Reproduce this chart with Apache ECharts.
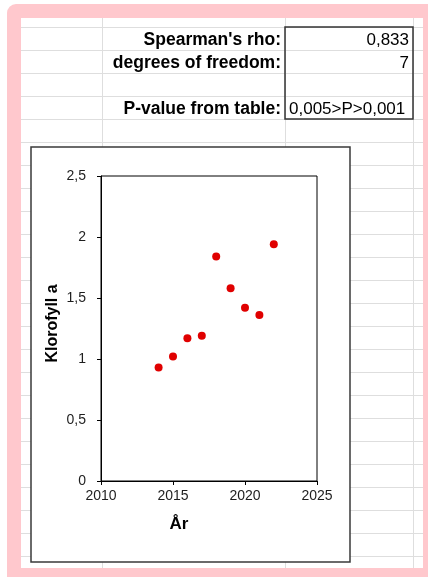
<!DOCTYPE html>
<html>
<head>
<meta charset="utf-8">
<script src="https://cdn.jsdelivr.net/npm/echarts@6/dist/echarts.min.js"></script>
<style>
html,body{margin:0;padding:0;background:#fff;}
#chart{width:428px;height:577px;}
</style>
</head>
<body>
<div id="chart"></div>
<script>
// ---- data ----
const years = [2014, 2015, 2016, 2017, 2018, 2019, 2020, 2021, 2022];
const klorofyll = [0.93, 1.02, 1.17, 1.19, 1.84, 1.58, 1.42, 1.36, 1.94];
const xRange = [2010, 2025];
const xStep = 5;
const yRange = [0, 2.5];
const yStep = 0.5;
const xTitle = "År";
const yTitle = "Klorofyll a";
const statLabels = ["Spearman's rho:", "degrees of freedom:", "P-value from table:"];
const statValues = ["0,833", "7", "0,005>P>0,001"];
const statRows = [0, 1, 3];

// ---- layout (styling only) ----
const FONT = "'Liberation Sans', Arial, sans-serif";
const PINK = '#ffc8cd';
const GRIDC = '#dedede';
const rowTop = 27, rowH = 23;
const colX = [102, 285, 413];

const g = [];
// pink sheet frame
g.push({type:'rect', z:-40, shape:{x:7, y:4, width:440, height:590, r:[9,0,0,0]}, style:{fill:PINK}});
g.push({type:'rect', z:-39, shape:{x:21, y:18, width:402, height:550}, style:{fill:'#fff'}});
// spreadsheet gridlines
for (let y = rowTop; y < 566; y += rowH) {
  g.push({type:'line', z:-30, shape:{x1:21, y1:y+0.5, x2:423, y2:y+0.5}, style:{stroke:GRIDC, lineWidth:1}});
}
colX.forEach(x => g.push({type:'line', z:-30, shape:{x1:x+0.5, y1:18, x2:x+0.5, y2:568}, style:{stroke:GRIDC, lineWidth:1}}));
// stats box
g.push({type:'rect', z:-20, shape:{x:285, y:27, width:128, height:92}, style:{fill:'none', stroke:'#333', lineWidth:1.5}});
statLabels.forEach((t, i) => {
  const cy = rowTop + statRows[i] * rowH + 13;
  g.push({type:'text', z:5, style:{text:t, x:281, y:cy, textAlign:'right', textVerticalAlign:'middle',
    font:'bold 17.5px ' + FONT, fill:'#000'}});
  const isNum = /^[0-9,]+$/.test(statValues[i]);
  g.push({type:'text', z:5, style:{text:statValues[i], x:isNum ? 409 : 289, y:cy,
    textAlign:isNum ? 'right' : 'left', textVerticalAlign:'middle', font:'17px ' + FONT, fill:'#000'}});
});
// chart box
g.push({type:'rect', z:-20, shape:{x:31, y:147, width:319, height:415}, style:{fill:'#fff', stroke:'#3a3a3a', lineWidth:1.5}});

const chart = echarts.init(document.getElementById('chart'), null, {renderer:'canvas'});
chart.setOption({
  animation:false,
  backgroundColor:'#fff',
  graphic:{elements:g},
  grid:{left:101, top:176, width:216, height:305, show:true, borderColor:'#000', borderWidth:1, backgroundColor:'transparent'},
  xAxis:{
    type:'value', min:xRange[0], max:xRange[1], interval:xStep,
    name:xTitle, nameLocation:'middle', nameGap:35, nameMoveOverlap:false,
    nameTextStyle:{fontFamily:FONT, fontWeight:'bold', fontSize:17, color:'#000', padding:[0,60,0,0]},
    axisLine:{show:true, onZero:false, lineStyle:{color:'#000', width:1}},
    axisTick:{show:true, inside:false, length:4, lineStyle:{color:'#000'}},
    axisLabel:{fontFamily:FONT, fontSize:14, color:'#1e1e1e', margin:8, formatter: v => String(v)},
    splitLine:{show:false}
  },
  yAxis:{
    type:'value', min:yRange[0], max:yRange[1], interval:yStep,
    name:yTitle, nameLocation:'middle', nameGap:40, nameMoveOverlap:false,
    nameTextStyle:{fontFamily:FONT, fontWeight:'bold', fontSize:16, color:'#000', padding:[0,0,0,10]},
    axisLine:{show:true, lineStyle:{color:'#000', width:1}},
    axisTick:{show:true, inside:false, length:4, lineStyle:{color:'#000'}},
    axisLabel:{fontFamily:FONT, fontSize:14, color:'#1e1e1e', margin:15,
      formatter: v => String(v).replace('.', ',')},
    splitLine:{show:false}
  },
  series:[{
    type:'scatter',
    data: years.map((y, i) => [y, klorofyll[i]]),
    symbol:'circle', symbolSize:8,
    itemStyle:{color:'#e00000', opacity:1},
    z:3
  }]
});
</script>
</body>
</html>
